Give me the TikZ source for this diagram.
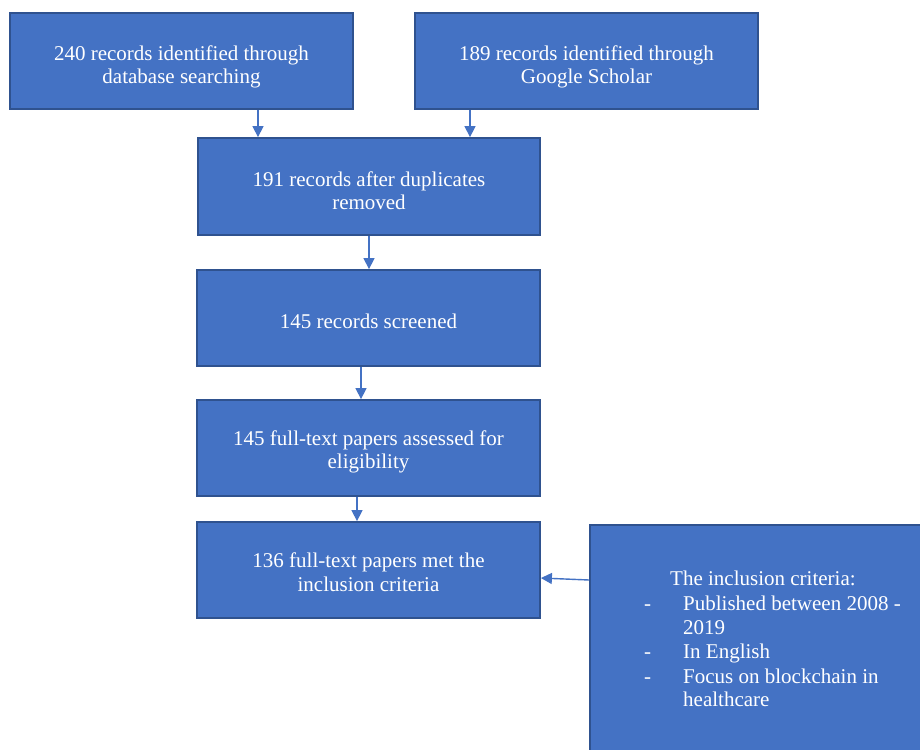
\documentclass[tikz,border=0pt]{standalone}
\usepackage{fontspec}
\setmainfont{Liberation Serif}
\usetikzlibrary{arrows.meta}
\definecolor{boxfill}{HTML}{4472C4}
\definecolor{boxline}{HTML}{2F528F}
\tikzset{
  fbox/.style={draw=boxline, line width=1.8pt, fill=boxfill, inner sep=0pt},
  btext/.style={text=white, inner sep=0pt, align=center, font=\fontsize{21}{23.5}\selectfont},
  arr/.style={draw=boxfill, line width=1.4pt, -{Triangle[length=11pt,width=11pt]}},
  crit/.style={text=white, inner sep=0pt, anchor=base west, font=\fontsize{21}{23}\selectfont}
}
\begin{document}
\begin{tikzpicture}[x=1pt,y=-1pt]
\useasboundingbox (0,0) rectangle (920,749);
\clip (0,0) rectangle (920,749);
\fill[white] (0,0) rectangle (920,749);
\node[fbox, minimum width=343pt, minimum height=96pt] (b1) at (181.5,61) {};
\node[fbox, minimum width=343pt, minimum height=96pt] (b2) at (586.5,61) {};
\node[fbox, minimum width=342pt, minimum height=97pt] (b3) at (369,186.5) {};
\node[fbox, minimum width=343pt, minimum height=96pt] (b4) at (368.5,318) {};
\node[fbox, minimum width=343pt, minimum height=96pt] (b5) at (368.5,448) {};
\node[fbox, minimum width=343pt, minimum height=96pt] (b6) at (368.5,570) {};
\node[fbox, minimum width=360pt, minimum height=260pt, anchor=north west] (b7) at (589,524) {};
\node[btext] (b1t) at ([yshift=-6pt]b1.center) {240 records identified through\\database searching};
\node[btext] (b2t) at ([yshift=-6pt]b2.center) {189 records identified through\\Google Scholar};
\node[btext] (b3t) at ([yshift=-4pt]b3.center) {191 records after duplicates\\removed};
\node[btext] (b4t) at ([yshift=-3pt]b4.center) {145 records screened};
\node[btext] (b5t) at ([yshift=-4pt]b5.center) {145 full-text papers assessed for\\eligibility};
\node[btext] (b6t) at ([yshift=-2pt]b6.center) {136 full-text papers met the\\inclusion criteria};
\node[crit] (t0) at (670,585) {The inclusion criteria:};
\node[crit] (d1) at (644,610) {-};
\node[crit] (t1) at (683,610) {Published between 2008 -};
\node[crit] (t1b) at (683,634) {2019};
\node[crit] (d2) at (644,658) {-};
\node[crit] (t2) at (683,658) {In English};
\node[crit] (d3) at (644,683) {-};
\node[crit] (t3) at (683,683) {Focus on blockchain in};
\node[crit] (t3b) at (683,706) {healthcare};
\draw[arr] ([xshift=76.5pt]b1.south) -- ([xshift=76.5pt]b1.south |- b3.north);
\draw[arr] ([xshift=-116.5pt]b2.south) -- ([xshift=-116.5pt]b2.south |- b3.north);
\draw[arr] (b3.south) -- (b3.south |- b4.north);
\draw[arr] ([xshift=-7.5pt]b4.south) -- ([xshift=-7.5pt]b4.south |- b5.north);
\draw[arr] ([xshift=-11.5pt]b5.south) -- ([xshift=-11.5pt]b5.south |- b6.north);
\coordinate (cfrom) at (589,580);
\draw[arr] (cfrom) -- ([yshift=-8pt]b6.east);
\end{tikzpicture}
\end{document}
